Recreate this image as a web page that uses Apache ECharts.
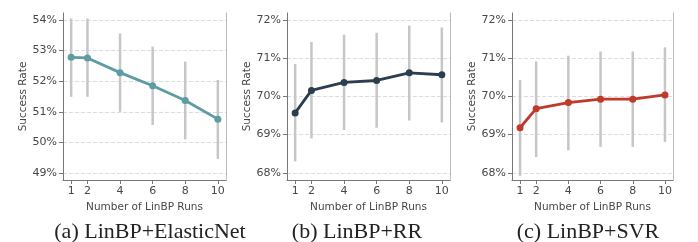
<html>
  <head>
    <meta charset="utf-8">
    <script src="https://cdn.jsdelivr.net/npm/echarts@6/dist/echarts.min.js"></script>
    <style>
      body { margin: 0; background-color: #fff; }
      #chart { width: 698px; height: 242px; }
    </style>
  </head>
  <body>
    <div id="chart"></div>
  </body>
  <script>
    // x values shared by all three panels
    var runs = [1, 2, 4, 6, 8, 10];
    var xTicks = [1, 2, 4, 6, 8, 10];

    // (a) LinBP+ElasticNet
    var elasticMean = [52.78, 52.76, 52.28, 51.85, 51.37, 50.76];
    var elasticLow  = [51.49, 51.49, 51.00, 50.57, 50.10, 49.46];
    var elasticHigh = [54.05, 54.05, 53.56, 53.13, 52.64, 52.04];
    var elasticTicks = [49, 50, 51, 52, 53, 54];

    // (b) LinBP+RR
    var rrMean = [69.57, 70.16, 70.37, 70.42, 70.62, 70.57];
    var rrLow  = [68.30, 68.90, 69.12, 69.18, 69.37, 69.32];
    var rrHigh = [70.85, 71.43, 71.62, 71.67, 71.86, 71.81];

    // (c) LinBP+SVR
    var svrMean = [69.18, 69.68, 69.84, 69.93, 69.93, 70.04];
    var svrLow  = [67.92, 68.41, 68.59, 68.68, 68.68, 68.81];
    var svrHigh = [70.43, 70.92, 71.07, 71.18, 71.18, 71.29];
    var rateTicks = [68, 69, 70, 71, 72];

    var captions = ['(a) LinBP+ElasticNet', '(b) LinBP+RR', '(c) LinBP+SVR'];

    var panels = [
      { mean: elasticMean, low: elasticLow, high: elasticHigh, ticks: elasticTicks,
        min: 48.77, max: 54.23, color: '#5e9ca3', left: 63, right: 472, cap: 145 },
      { mean: rrMean, low: rrLow, high: rrHigh, ticks: rateTicks,
        min: 67.81, max: 72.19, color: '#2b3e50', left: 287, right: 248, cap: 352 },
      { mean: svrMean, low: svrLow, high: svrHigh, ticks: rateTicks,
        min: 67.81, max: 72.19, color: '#c0392b', left: 512, right: 25, cap: 583 }
    ];

    var tickFont = { fontFamily: 'DejaVu Sans', fontSize: 11, color: '#484848' };
    var nameFont = { fontFamily: 'DejaVu Sans', fontSize: 10.5, color: '#484848' };

    var option = { animation: false, grid: [], xAxis: [], yAxis: [], series: [], title: [] };

    panels.forEach(function (p, i) {
      option.grid.push({ left: p.left, right: p.right, top: 13, bottom: 62 });
      option.xAxis.push({
        type: 'value', gridIndex: i, min: 0.5, max: 10.5,
        name: 'Number of LinBP Runs', nameLocation: 'middle', nameGap: 20,
        nameTextStyle: nameFont,
        axisLine: { lineStyle: { color: '#777', width: 1 } },
        axisTick: { length: 4, lineStyle: { color: '#777' }, customValues: xTicks },
        axisLabel: Object.assign({ margin: 6, customValues: xTicks }, tickFont),
        splitLine: { show: false }
      });
      // left axis with labels
      option.yAxis.push({
        type: 'value', gridIndex: i, min: p.min, max: p.max,
        name: 'Success Rate', nameLocation: 'middle', nameGap: 34,
        nameTextStyle: nameFont,
        axisLine: { show: true, lineStyle: { color: '#777', width: 1 } },
        axisTick: { show: true, length: 4, lineStyle: { color: '#777' }, customValues: p.ticks },
        axisLabel: Object.assign({ margin: 6, customValues: p.ticks,
          formatter: function (v) { return Math.round(v) + '%'; } }, tickFont),
        splitLine: { show: true, lineStyle: { color: '#dcdcdc', type: [4, 2], width: 1 } }
      });
      // right spine
      option.yAxis.push({
        type: 'value', gridIndex: i, min: p.min, max: p.max, position: 'right',
        axisLine: { show: true, lineStyle: { color: '#bbb', width: 1 } },
        axisTick: { show: false }, axisLabel: { show: false }, splitLine: { show: false }
      });

      var bars = runs.map(function (r, k) { return [r, p.low[k], p.high[k]]; });
      option.series.push({
        type: 'custom', xAxisIndex: i, yAxisIndex: i * 2, z: 1,
        data: bars,
        renderItem: function (params, api) {
          var a = api.coord([api.value(0), api.value(1)]);
          var b = api.coord([api.value(0), api.value(2)]);
          return { type: 'line', shape: { x1: a[0], y1: a[1], x2: b[0], y2: b[1] },
                   style: { stroke: '#c6c6c6', lineWidth: 2.5 } };
        }
      });
      option.series.push({
        type: 'line', xAxisIndex: i, yAxisIndex: i * 2, z: 3,
        data: runs.map(function (r, k) { return [r, p.mean[k]]; }),
        symbol: 'circle', symbolSize: 7,
        lineStyle: { color: p.color, width: 2.8 },
        itemStyle: { color: p.color }
      });
      option.title.push({
        text: captions[i], left: p.cap, top: 216, textAlign: 'center',
        textStyle: { fontFamily: 'Liberation Serif', fontSize: 22, fontWeight: 'normal', color: '#222' }
      });
    });

    var chart = echarts.init(document.getElementById('chart'));
    chart.setOption(option);
  </script>
</html>
